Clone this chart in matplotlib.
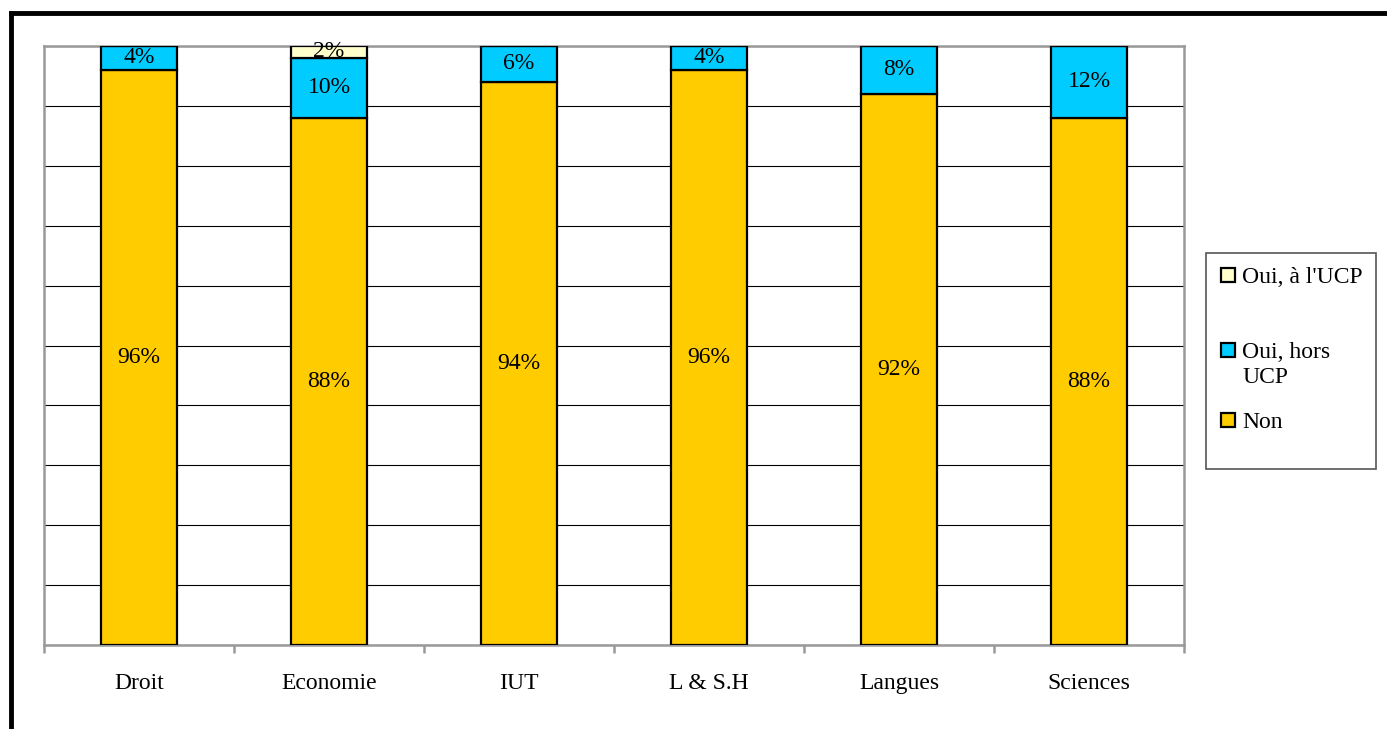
import numpy as np
import matplotlib
matplotlib.use("Agg")
import matplotlib.pyplot as plt
from matplotlib.patches import Rectangle
from matplotlib.lines import Line2D

plt.rcParams['font.family'] = ['Liberation Serif', 'DejaVu Serif']

# Données
categories = ["Droit", "Economie", "IUT", "L & S.H", "Langues", "Sciences"]
non = [96, 88, 94, 96, 92, 88]
oui_hors = [4, 10, 6, 4, 8, 12]
oui_ucp = [0, 2, 0, 0, 0, 0]

series = [
    ("Non", non, "#FFCC00"),
    ("Oui, hors\nUCP", oui_hors, "#00CCFF"),
    ("Oui, à l'UCP", oui_ucp, "#FFFFCC"),
]

W, H = 1387, 729
FS = 17
fig = plt.figure(figsize=(W / 100, H / 100), dpi=100)
ax = fig.add_axes([44 / W, 1 - 645 / H, (1184 - 44) / W, (645 - 46) / H])

x = np.arange(len(categories))
bottom = np.zeros(len(categories))
for name, vals, col in series:
    vals = np.array(vals, dtype=float)
    ax.bar(x, vals, 0.395, bottom=bottom, color=col, edgecolor="black",
           linewidth=1.6, zorder=3, label=name)
    for xi, b, v in zip(x, bottom, vals):
        if v > 0:
            ax.text(xi, b + v / 2, f"{v:.0f}%", ha="center", va="center",
                    fontsize=FS, zorder=4)
    bottom += vals

ax.set_xlim(-0.5, len(categories) - 0.5)
ax.set_ylim(0, 100)
ax.set_yticks(np.arange(0, 101, 10))
ax.yaxis.grid(True, color="black", linewidth=0.8, zorder=1)
ax.tick_params(axis="y", left=False, labelleft=False)

ax.set_xticks(x)
ax.set_xticklabels(categories, fontsize=FS)
ax.set_xticks(np.arange(-0.5, len(categories)), minor=True)
ax.tick_params(axis="x", which="major", length=0, pad=20)
ax.tick_params(axis="x", which="minor", length=6, width=1.8, color="#999999")
for s in ax.spines.values():
    s.set_color("#999999")
    s.set_linewidth(1.8)

# Légende (positions en pixels de la figure)
def fx(px):
    return px / W

def fy(py):
    return 1 - py / H

fig.add_artist(Rectangle((fx(1206), fy(469)), fx(1376) - fx(1206),
                         fy(253) - fy(469), transform=fig.transFigure,
                         facecolor="white", edgecolor="#555555", linewidth=1.2))
legend_y = [275, 350, 420]
for (name, _, col), yy in zip(reversed(series), legend_y):
    fig.add_artist(Rectangle((fx(1221), fy(yy + 7)), fx(1235) - fx(1221),
                             fy(yy - 7) - fy(yy + 7), transform=fig.transFigure,
                             facecolor=col, edgecolor="black", linewidth=1.6))
    for k, line in enumerate(name.split("\n")):
        fig.text(fx(1242), fy(yy + 8 + 25 * k), line, ha="left",
                 va="baseline", fontsize=FS)

# Cadre noir
fig.add_artist(Line2D([11 / W, 11 / W], [0, 1 - 13 / H], color="black",
                      linewidth=3.5, transform=fig.transFigure))
fig.add_artist(Line2D([11 / W, 1], [1 - 13 / H, 1 - 13 / H], color="black",
                      linewidth=3.5, transform=fig.transFigure))

fig.savefig("out.png", dpi=100)
